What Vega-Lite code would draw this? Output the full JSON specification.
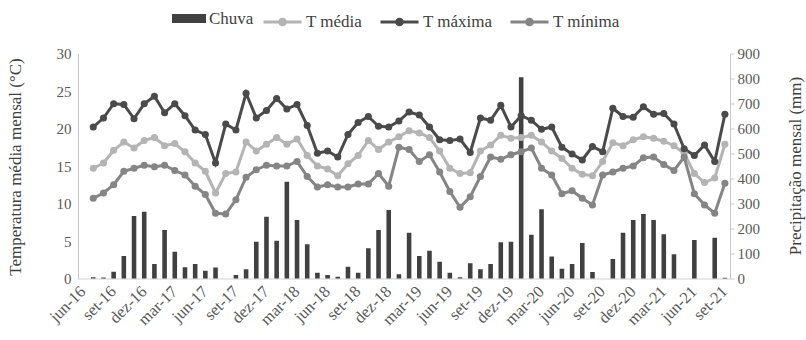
{
  "$schema": "https://vega.github.io/schema/vega-lite/v6.json",
  "width": 652,
  "height": 225,
  "autosize": {"type": "none"},
  "padding": {"left": 78, "top": 53.5, "right": 76, "bottom": 61.5},
  "background": "white",
  "config": {
    "font": "Liberation Serif",
    "view": {"stroke": null},
    "axis": {
      "labelFont": "Liberation Serif",
      "titleFont": "Liberation Serif",
      "labelColor": "#595959",
      "titleColor": "#404040",
      "titleFontWeight": "normal",
      "grid": false,
      "domainColor": "#c8c8c8",
      "domainWidth": 1
    },
    "legend": {
      "labelFont": "Liberation Serif",
      "labelColor": "#404040",
      "labelFontSize": 17,
      "title": null,
      "padding": 0
    }
  },
  "data": {
    "values": [
      {"mes": "jul-16", "Chuva": 5, "T média": 14.7, "T máxima": 20.2, "T mínima": 10.7},
      {"mes": "ago-16", "Chuva": 4, "T média": 15.4, "T máxima": 21.4, "T mínima": 11.4},
      {"mes": "set-16", "Chuva": 27, "T média": 17.1, "T máxima": 23.3, "T mínima": 12.5},
      {"mes": "out-16", "Chuva": 90, "T média": 18.2, "T máxima": 23.2, "T mínima": 14.3},
      {"mes": "nov-16", "Chuva": 250, "T média": 17.4, "T máxima": 21.3, "T mínima": 14.7},
      {"mes": "dez-16", "Chuva": 267, "T média": 18.4, "T máxima": 23.3, "T mínima": 15.1},
      {"mes": "jan-17", "Chuva": 58, "T média": 18.8, "T máxima": 24.3, "T mínima": 14.9},
      {"mes": "fev-17", "Chuva": 194, "T média": 17.7, "T máxima": 22.1, "T mínima": 15.1},
      {"mes": "mar-17", "Chuva": 107, "T média": 18.0, "T máxima": 23.3, "T mínima": 14.4},
      {"mes": "abr-17", "Chuva": 45, "T média": 16.9, "T máxima": 21.7, "T mínima": 13.8},
      {"mes": "mai-17", "Chuva": 58, "T média": 15.4, "T máxima": 19.8, "T mínima": 12.3},
      {"mes": "jun-17", "Chuva": 31, "T média": 14.3, "T máxima": 19.2, "T mínima": 11.2},
      {"mes": "jul-17", "Chuva": 44, "T média": 11.4, "T máxima": 15.4, "T mínima": 8.7},
      {"mes": "ago-17", "Chuva": 0, "T média": 14.0, "T máxima": 20.6, "T mínima": 8.6},
      {"mes": "set-17", "Chuva": 14, "T média": 14.2, "T máxima": 19.8, "T mínima": 10.5},
      {"mes": "out-17", "Chuva": 37, "T média": 18.2, "T máxima": 24.7, "T mínima": 13.5},
      {"mes": "nov-17", "Chuva": 147, "T média": 17.0, "T máxima": 21.4, "T mínima": 14.5},
      {"mes": "dez-17", "Chuva": 247, "T média": 17.9, "T máxima": 22.4, "T mínima": 15.1},
      {"mes": "jan-18", "Chuva": 151, "T média": 18.8, "T máxima": 24.0, "T mínima": 15.0},
      {"mes": "fev-18", "Chuva": 387, "T média": 17.9, "T máxima": 22.6, "T mínima": 15.0},
      {"mes": "mar-18", "Chuva": 234, "T média": 18.6, "T máxima": 23.2, "T mínima": 15.6},
      {"mes": "abr-18", "Chuva": 137, "T média": 16.4, "T máxima": 20.4, "T mínima": 13.6},
      {"mes": "mai-18", "Chuva": 23, "T média": 15.0, "T máxima": 16.7, "T mínima": 12.2},
      {"mes": "jun-18", "Chuva": 14, "T média": 14.6, "T máxima": 17.0, "T mínima": 12.5},
      {"mes": "jul-18", "Chuva": 7, "T média": 13.7, "T máxima": 16.2, "T mínima": 12.2},
      {"mes": "ago-18", "Chuva": 47, "T média": 15.3, "T máxima": 19.2, "T mínima": 12.2},
      {"mes": "set-18", "Chuva": 23, "T média": 16.4, "T máxima": 20.8, "T mínima": 12.6},
      {"mes": "out-18", "Chuva": 121, "T média": 18.4, "T máxima": 21.6, "T mínima": 12.6},
      {"mes": "nov-18", "Chuva": 194, "T média": 17.2, "T máxima": 20.3, "T mínima": 14.0},
      {"mes": "dez-18", "Chuva": 274, "T média": 18.2, "T máxima": 20.2, "T mínima": 12.3},
      {"mes": "jan-19", "Chuva": 17, "T média": 18.9, "T máxima": 21.0, "T mínima": 17.5},
      {"mes": "fev-19", "Chuva": 183, "T média": 19.7, "T máxima": 22.2, "T mínima": 17.2},
      {"mes": "mar-19", "Chuva": 90, "T média": 19.4, "T máxima": 21.8, "T mínima": 15.6},
      {"mes": "abr-19", "Chuva": 111, "T média": 18.8, "T máxima": 20.2, "T mínima": 16.5},
      {"mes": "mai-19", "Chuva": 67, "T média": 17.0, "T máxima": 18.5, "T mínima": 14.2},
      {"mes": "jun-19", "Chuva": 23, "T média": 14.7, "T máxima": 18.4, "T mínima": 11.6},
      {"mes": "jul-19", "Chuva": 5, "T média": 14.0, "T máxima": 18.6, "T mínima": 9.5},
      {"mes": "ago-19", "Chuva": 61, "T média": 14.1, "T máxima": 16.8, "T mínima": 10.9},
      {"mes": "set-19", "Chuva": 37, "T média": 17.0, "T máxima": 21.4, "T mínima": 13.6},
      {"mes": "out-19", "Chuva": 58, "T média": 17.8, "T máxima": 21.1, "T mínima": 16.2},
      {"mes": "nov-19", "Chuva": 145, "T média": 19.1, "T máxima": 23.1, "T mínima": 15.9},
      {"mes": "dez-19", "Chuva": 147, "T média": 18.7, "T máxima": 20.2, "T mínima": 16.5},
      {"mes": "jan-20", "Chuva": 805, "T média": 18.8, "T máxima": 21.7, "T mínima": 16.9},
      {"mes": "fev-20", "Chuva": 175, "T média": 19.1, "T máxima": 21.1, "T mínima": 17.4},
      {"mes": "mar-20", "Chuva": 277, "T média": 18.2, "T máxima": 19.9, "T mínima": 14.7},
      {"mes": "abr-20", "Chuva": 88, "T média": 17.0, "T máxima": 20.2, "T mínima": 13.8},
      {"mes": "mai-20", "Chuva": 39, "T média": 16.0, "T máxima": 17.5, "T mínima": 11.3},
      {"mes": "jun-20", "Chuva": 58, "T média": 14.7, "T máxima": 16.6, "T mínima": 11.7},
      {"mes": "jul-20", "Chuva": 142, "T média": 13.9, "T máxima": 15.8, "T mínima": 10.7},
      {"mes": "ago-20", "Chuva": 26, "T média": 13.7, "T máxima": 17.6, "T mínima": 9.8},
      {"mes": "set-20", "Chuva": 0, "T média": 15.6, "T máxima": 16.9, "T mínima": 13.8},
      {"mes": "out-20", "Chuva": 78, "T média": 18.1, "T máxima": 22.7, "T mínima": 14.2},
      {"mes": "nov-20", "Chuva": 183, "T média": 17.7, "T máxima": 21.6, "T mínima": 14.7},
      {"mes": "dez-20", "Chuva": 234, "T média": 18.5, "T máxima": 21.5, "T mínima": 15.0},
      {"mes": "jan-21", "Chuva": 258, "T média": 18.9, "T máxima": 22.9, "T mínima": 16.1},
      {"mes": "fev-21", "Chuva": 234, "T média": 18.7, "T máxima": 21.9, "T mínima": 16.2},
      {"mes": "mar-21", "Chuva": 177, "T média": 18.3, "T máxima": 22.0, "T mínima": 15.2},
      {"mes": "abr-21", "Chuva": 97, "T média": 17.7, "T máxima": 20.6, "T mínima": 14.4},
      {"mes": "mai-21", "Chuva": 0, "T média": 16.7, "T máxima": 17.3, "T mínima": 16.2},
      {"mes": "jun-21", "Chuva": 154, "T média": 14.0, "T máxima": 16.4, "T mínima": 11.3},
      {"mes": "jul-21", "Chuva": 0, "T média": 12.8, "T máxima": 17.8, "T mínima": 9.8},
      {"mes": "ago-21", "Chuva": 163, "T média": 13.4, "T máxima": 15.6, "T mínima": 8.7},
      {"mes": "set-21", "Chuva": 3, "T média": 17.9, "T máxima": 21.9, "T mínima": 12.7}
    ]
  },
  "encoding": {
    "x": {
      "field": "mes",
      "type": "ordinal",
      "scale": {
        "domain": ["jun-16","jul-16","ago-16","set-16","out-16","nov-16","dez-16","jan-17","fev-17","mar-17","abr-17","mai-17","jun-17","jul-17","ago-17","set-17","out-17","nov-17","dez-17","jan-18","fev-18","mar-18","abr-18","mai-18","jun-18","jul-18","ago-18","set-18","out-18","nov-18","dez-18","jan-19","fev-19","mar-19","abr-19","mai-19","jun-19","jul-19","ago-19","set-19","out-19","nov-19","dez-19","jan-20","fev-20","mar-20","abr-20","mai-20","jun-20","jul-20","ago-20","set-20","out-20","nov-20","dez-20","jan-21","fev-21","mar-21","abr-21","mai-21","jun-21","jul-21","ago-21","set-21"],
        "paddingInner": 0.55,
        "paddingOuter": 0.275
      },
      "axis": {
        "title": null,
        "values": ["jun-16","set-16","dez-16","mar-17","jun-17","set-17","dez-17","mar-18","jun-18","set-18","dez-18","mar-19","jun-19","set-19","dez-19","mar-20","jun-20","set-20","dez-20","mar-21","jun-21","set-21"],
        "labelAngle": -45,
        "labelAlign": "right",
        "labelBaseline": "middle",
        "labelFontSize": 16.5,
        "labelPadding": 10,
        "ticks": false,
        "domainColor": "#d0d0d0"
      }
    }
  },
  "layer": [
    {
      "mark": {"type": "bar"},
      "encoding": {
        "y": {
          "field": "Chuva",
          "type": "quantitative",
          "scale": {"domain": [0, 900], "nice": false},
          "axis": {
            "orient": "right",
            "values": [0, 100, 200, 300, 400, 500, 600, 700, 800, 900],
            "title": "Precipitação mensal (mm)",
            "titleFont": "Liberation Serif",
            "titleAngle": 270,
            "titleFontSize": 17,
            "titleX": 65,
            "titleY": 112,
            "titleAlign": "center",
            "titleBaseline": "middle",
            "labelFontSize": 15,
            "labelPadding": 3,
            "ticks": true,
            "tickSize": 4,
            "tickColor": "#c8c8c8"
          }
        },
        "fill": {
          "datum": "Chuva",
          "scale": {"domain": ["Chuva"], "range": ["#404040"]},
          "legend": {
            "orient": "none",
            "legendX": 94,
            "legendY": -52,
            "symbolType": "M-1,-0.27H1V0.27H-1Z",
            "symbolSize": 1156,
            "symbolStrokeWidth": 0,
            "labelOffset": 3
          }
        }
      }
    },
    {
      "transform": [{"fold": ["T média", "T máxima", "T mínima"], "as": ["serie", "valor"]}],
      "mark": {"type": "line", "strokeWidth": 3, "point": {"filled": true, "size": 50}},
      "encoding": {
        "y": {
          "field": "valor",
          "type": "quantitative",
          "scale": {"domain": [0, 30], "nice": false},
          "axis": {
            "orient": "left",
            "values": [0, 5, 10, 15, 20, 25, 30],
            "title": "Temperatura média mensal (°C)",
            "titleFont": "Liberation Serif",
            "titleFontSize": 17,
            "titleX": -63,
            "titleY": 113,
            "titleAlign": "center",
            "titleBaseline": "middle",
            "labelFontSize": 15,
            "labelPadding": 7,
            "ticks": false
          }
        },
        "color": {
          "field": "serie",
          "type": "nominal",
          "scale": {"domain": ["T média", "T máxima", "T mínima"], "range": ["#b4b4b4", "#4a4a4a", "#858585"]},
          "legend": {
            "orient": "none",
            "legendX": 184,
            "legendY": -52,
            "direction": "horizontal",
            "gridAlign": "none",
            "columnPadding": 11,
            "symbolType": "M-1,0H1M-0.15,0A0.15,0.15 0 1,0 0.15,0A0.15,0.15 0 1,0 -0.15,0",
            "symbolSize": 1444,
            "symbolStrokeWidth": 3,
            "labelOffset": 3,
            "encode": {"symbols": {"update": {"fill": {"scale": "color", "field": "value"}}}}
          }
        }
      }
    }
  ],
  "resolve": {"scale": {"y": "independent"}}
}
